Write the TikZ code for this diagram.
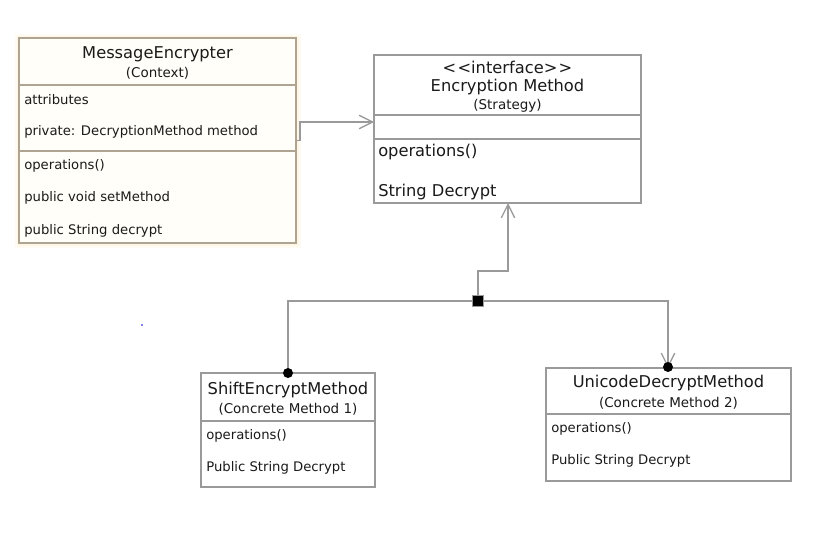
\documentclass[tikz,border=0pt]{standalone}
\usepackage{fontspec}
\setmainfont{DejaVu Sans}
\usetikzlibrary{fit,arrows.meta}
\definecolor{lineg}{HTML}{9A9A9A}
\definecolor{ctxborder}{HTML}{AFA491}
\definecolor{ctxfill}{HTML}{FFFEF8}
\definecolor{txt}{HTML}{1A1A1A}
\tikzset{
  umlbox/.style={draw=lineg, line width=1.1pt, inner sep=0pt, fill=white},
  ctxbox/.style={draw=ctxborder, line width=1.1pt, inner sep=0pt, fill=ctxfill},
  divider/.style={draw=lineg, line width=1.1pt},
  conn/.style={draw=lineg, line width=1.1pt},
  opentip/.style={-{Straight Barb[length=10pt,width=10pt,line width=1pt]}},
  bigtitle/.style={font=\fontsize{12.2}{14}\selectfont, text=txt, inner sep=0pt},
  subtitle/.style={font=\fontsize{10.1}{12}\selectfont, text=txt, inner sep=0pt},
  item/.style={font=\fontsize{9.9}{12}\selectfont, text=txt, anchor=west, inner sep=0pt},
  bigitem/.style={font=\fontsize{12.2}{14}\selectfont, text=txt, anchor=west, inner sep=0pt},
  blob/.style={circle, fill=black, inner sep=0pt, minimum size=7.5pt},
  sq/.style={rectangle, fill=black, draw=lineg, line width=0.6pt, inner sep=0pt, minimum size=8pt}
}
\begin{document}
\begin{tikzpicture}[x=0.75pt,y=-0.75pt]
\useasboundingbox (0,0) rectangle (833,535);
% soft shadow of context box
\fill[yellow!30!orange, opacity=0.05] (15,34) rectangle (301,248);
\fill[yellow!30!orange, opacity=0.05] (17,36) rectangle (299,246);
% MessageEncrypter
\node[ctxbox, fit={(19,38) (296,243)}] (me) {};
\draw[draw=ctxborder, line width=1.1pt] (19,85) -- (296,85);
\draw[draw=ctxborder, line width=1.1pt] (19,151) -- (296,151);
\node[bigtitle] (meT) at (157.5,54) {MessageEncrypter};
\node[subtitle] (meS) at (157.5,73) {(Context)};
\node[item] (me1) at (24,100) {attributes};
\node[item] (me2) at (24,132) {private: DecryptionMethod method};
\node[item] (me3) at (24,166) {operations()};
\node[item] (me4) at (24,198) {public void setMethod};
\node[item] (me5) at (24,231) {public String decrypt};
% Encryption Method
\node[umlbox, fit={(374,55) (641,203)}] (em) {};
\draw[divider] (374,115) -- (641,115);
\draw[divider] (374,139) -- (641,139);
\node[bigtitle] (emI) at (507.5,67) {{<}\kern1pt{<}interface{>}\kern1pt{>}};
\node[bigtitle] (emT) at (507.5,87) {Encryption Method};
\node[subtitle] (emS) at (507.5,106) {(Strategy)};
\node[bigitem] (em1) at (378,152) {operations()};
\node[bigitem] (em2) at (378,192) {String Decrypt};
% ShiftEncryptMethod
\node[umlbox, fit={(201,373) (375,487)}] (se) {};
\draw[divider] (201,421) -- (375,421);
\node[bigtitle] (seT) at (288,390) {ShiftEncryptMethod};
\node[subtitle] (seS) at (288,409) {(Concrete Method 1)};
\node[item] (se1) at (206,436) {operations()};
\node[item] (se2) at (206,468) {Public String Decrypt};
% UnicodeDecryptMethod
\node[umlbox, fit={(546,368) (791,481)}] (ue) {};
\draw[divider] (546,414) -- (791,414);
\node[bigtitle] (ueT) at (668.5,383) {UnicodeDecryptMethod};
\node[subtitle] (ueS) at (668.5,403) {(Concrete Method 2)};
\node[item] (ue1) at (551,429) {operations()};
\node[item] (ue2) at (551,461) {Public String Decrypt};
% connectors
\coordinate (emIn) at (374,122);
\draw[conn, opentip] (me.east) -- (300,140.5) -- (300,122) -- (emIn);
\node[sq] (hub) at (478,301) {};
\coordinate (emBot) at (508,203);
\draw[conn, opentip] (hub.north) -- (478,271) -- (508,271) -- (emBot);
\coordinate (seTop) at (288,373);
\coordinate (ueTop) at (668,368);
\draw[conn] (hub.west) -- (288,301) -- (seTop);
\draw[conn, opentip] (hub.east) -- (668,301) -- (ueTop);
\node[blob] (seDot) at (seTop) {};
\node[blob] (ueDot) at (668,367) {};
% stray dot
\fill[blue!80!black] (142,325) circle (0.8);
\end{tikzpicture}
\end{document}
